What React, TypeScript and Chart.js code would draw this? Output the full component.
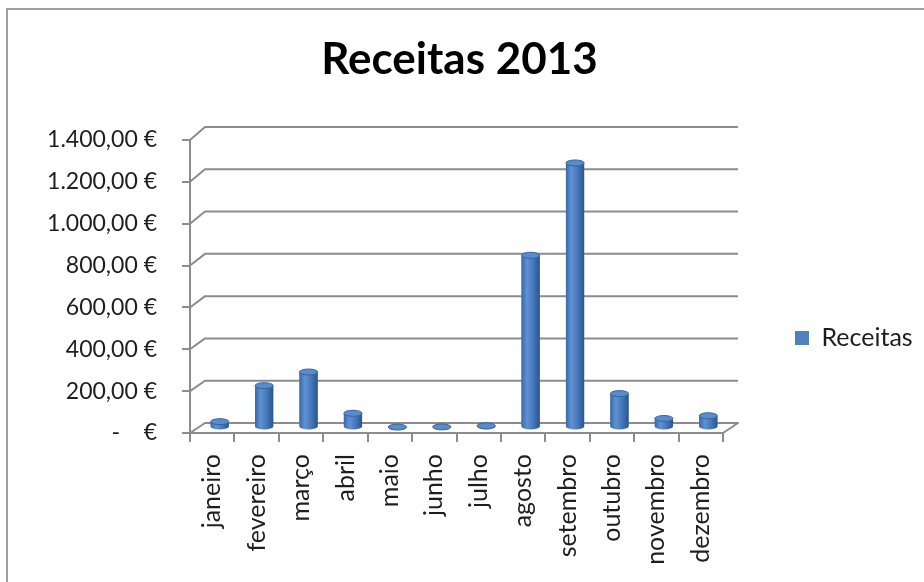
import React, { useEffect, useRef } from 'react';
import { Chart, registerables } from 'chart.js';

Chart.register(...registerables);

// ---- data ----
const chartTitle = 'Receitas 2013';
const seriesLabel = 'Receitas';
const categories = [
  'janeiro', 'fevereiro', 'março', 'abril', 'maio', 'junho',
  'julho', 'agosto', 'setembro', 'outubro', 'novembro', 'dezembro',
];
const receitas = [28, 200, 265, 68, 2, 3, 8, 823, 1264, 162, 43, 56];
const yMin = 0;
const yMax = 1400;
const yStep = 200;

// ---- style ----
const FONT = 'Lato, "Open Sans", "DejaVu Sans", sans-serif';
const GRID = '#8c8c8c';
const TEXT = '#1e1e1e';
const BAR = '#4f81bd';
const DEPTH_X = 15;

function formatEuro(v: number): string {
  if (v === 0) return '-    €';
  const [int, dec] = v.toFixed(2).split('.');
  const withDots = int.replace(/\B(?=(\d{3})+(?!\d))/g, '.');
  return `${withDots},${dec} €`;
}

function backDY(v: number): number {
  return 10 + 3 * (v / yMax);
}

const depthPlugin = {
  id: 'depth3d',
  beforeDatasetsDraw(chart: any) {
    const { ctx, chartArea, scales } = chart;
    const y = scales.y;
    ctx.save();
    ctx.strokeStyle = GRID;
    ctx.lineWidth = 2;
    ctx.lineJoin = 'round';
    y.ticks.forEach((t: any) => {
      const fy = y.getPixelForValue(t.value);
      const by = fy - backDY(t.value);
      ctx.beginPath();
      ctx.moveTo(chartArea.left, fy);
      ctx.lineTo(chartArea.left + DEPTH_X, by);
      ctx.lineTo(chartArea.right + DEPTH_X, by);
      if (t.value === yMin) {
        ctx.lineTo(chartArea.right, fy);
      }
      ctx.stroke();
    });
    ctx.restore();
    ctx.save();
    ctx.translate(DEPTH_X / 2, -5.5);
  },
  afterDatasetsDraw(chart: any) {
    const { ctx } = chart;
    const meta = chart.getDatasetMeta(0);
    meta.data.forEach((el: any) => {
      const rx = el.width / 2;
      const ry = 3;
      const left = el.x - rx;
      const right = el.x + rx;
      const grad = ctx.createLinearGradient(left, 0, right, 0);
      grad.addColorStop(0, '#3b69a8');
      grad.addColorStop(0.3, '#5f91d3');
      grad.addColorStop(0.65, '#4677bb');
      grad.addColorStop(1, '#2a548d');
      ctx.fillStyle = grad;
      ctx.beginPath();
      ctx.moveTo(left, el.y);
      ctx.lineTo(left, el.base);
      ctx.ellipse(el.x, el.base, rx, ry, 0, Math.PI, 0, true);
      ctx.lineTo(right, el.y);
      ctx.ellipse(el.x, el.y, rx, ry, 0, 0, Math.PI, false);
      ctx.closePath();
      ctx.fill();
      // top cap
      ctx.beginPath();
      ctx.ellipse(el.x, el.y, rx, ry, 0, 0, Math.PI * 2);
      ctx.fillStyle = '#5a8ccc';
      ctx.fill();
      ctx.strokeStyle = '#35649e';
      ctx.lineWidth = 1;
      ctx.stroke();
    });
    ctx.restore();
  },
};

export default function App() {
  const ref = useRef<HTMLCanvasElement | null>(null);

  useEffect(() => {
    if (!ref.current) return;
    Chart.defaults.font.family = FONT;
    Chart.defaults.color = TEXT;
    const chart = new Chart(ref.current, {
      type: 'bar',
      data: {
        labels: categories,
        datasets: [
          {
            label: seriesLabel,
            data: receitas,
            backgroundColor: BAR,
            borderWidth: 0,
            categoryPercentage: 1,
            barPercentage: 0.41,
          },
        ],
      },
      options: {
        animation: false,
        responsive: false,
        devicePixelRatio: 1,
        layout: { padding: { left: 0, right: 5, top: 0, bottom: 0 } },
        plugins: {
          title: {
            display: true,
            text: chartTitle,
            color: '#000',
            font: { size: 44, weight: 'bold', family: FONT },
            padding: { top: 33.6, bottom: 53.6 },
          },
          legend: {
            position: 'right',
            maxWidth: 196,
            title: { display: true, text: '', font: { size: 12 }, padding: { top: 40, bottom: 39.6 } },
            labels: {
              boxWidth: 14,
              boxHeight: 14,
              padding: 72,
              color: TEXT,
              font: { size: 25, family: FONT },
            },
          },
          tooltip: { enabled: false },
        },
        scales: {
          x: {
            grid: {
              drawOnChartArea: false,
              drawTicks: true,
              tickLength: 9,
              color: GRID,
              lineWidth: 2,
            },
            border: { display: true, color: GRID, width: 2 },
            ticks: {
              autoSkip: false,
              minRotation: 90,
              maxRotation: 90,
              padding: 12,
              color: TEXT,
              font: { size: 25, family: FONT },
            },
            afterFit: (scale: any) => {
              scale.height = 149;
            },
          },
          y: {
            min: yMin,
            max: yMax,
            grid: {
              drawOnChartArea: false,
              drawTicks: true,
              tickLength: 8,
              color: GRID,
              lineWidth: 2,
            },
            border: { display: true, color: GRID, width: 2 },
            ticks: {
              stepSize: yStep,
              padding: 25,
              color: TEXT,
              font: { size: 23, family: FONT },
              callback: (v: any) => formatEuro(Number(v)),
            },
            afterFit: (scale: any) => {
              scale.width = 190;
            },
          },
        },
      },
      plugins: [depthPlugin],
    });
    return () => chart.destroy();
  }, []);

  return (
    <div style={{ position: 'fixed', left: 0, top: 0, width: 924, height: 582, background: '#fff', overflow: 'hidden' }}>
      <canvas ref={ref} width={924} height={582} style={{ display: 'block', width: 924, height: 582 }} />
      <div
        style={{
          position: 'absolute',
          left: 6,
          top: 8,
          width: 960,
          height: 620,
          borderLeft: '2px solid #a0a0a0',
          borderTop: '2px solid #a0a0a0',
          pointerEvents: 'none',
        }}
      />
    </div>
  );
}
